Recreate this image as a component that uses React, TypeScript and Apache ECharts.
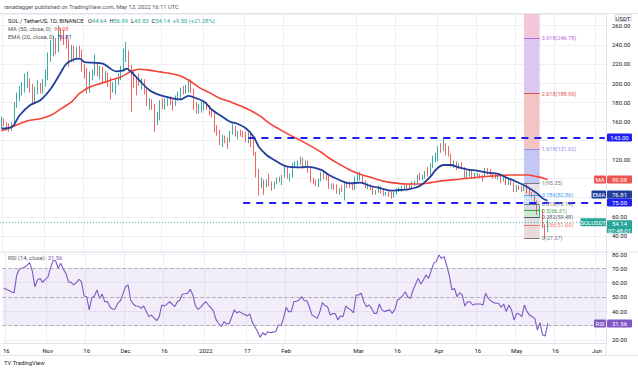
import { useEffect, useRef } from "react";
import * as echarts from "echarts";

const FONT = "Roboto, 'Liberation Sans', sans-serif";

// Daily candles as [close, high, low]; each open is the previous close.
const oct21 = [[161,165,153],[158,163,155],[154,159,150],[152,158,149],[156,159,150],[178,180,155],[185,190,174],[192,197,181],[196,201,187],[200,210,190],[203,212,195],[196,205,190],[183,199,178],[192,196,180],[197,203,188],[194,200,189],[200,204,189]];
const nov21 = [[204,214,196],[228,232,203],[236,245,222],[238,249,228],[237,247,230],[251,260,232],[250,258,244],[247,256,240],[240,250,236],[225,246,217],[236,240,222],[231,239,222],[233,238,226],[232,239,227],[215,235,212],[214,220,205],[195,216,189],[208,212,190],[210,214,203],[218,230,208],[210,222,207],[214,218,204],[206,217,201],[207,213,200],[200,211,196],[195,206,183],[196,201,190],[202,204,188],[205,210,198],[215,218,203]];
const dec21 = [[228,236,212],[231,243,222],[216,234,212],[210,219,170],[205,213,195],[203,207,187],[200,210,197],[203,205,193],[190,204,188],[178,194,176],[181,184,172],[176,183,172],[162,178,149],[167,170,156],[180,182,161],[178,184,173],[180,184,172],[183,186,176],[181,186,177],[178,183,171],[184,187,176],[186,191,181],[193,195,182],[192,197,188],[193,198,189],[198,202,190],[193,204,190],[175,194,172],[171,180,168],[174,178,168],[176,181,169]];
const jan22 = [[178,180,171],[176,180,172],[170,177,166],[167,172,164],[155,171,148],[150,156,145],[138,151,135],[142,146,133],[141,145,137],[140,143,131],[148,150,138],[153,157,146],[146,155,144],[148,150,141],[147,151,144],[146,150,143],[144,149,138],[146,148,137],[136,147,133],[127,142,124],[109,128,101],[94,110,82],[99,101,90],[95,99,83],[97,99,91],[95,105,92],[94,97,87],[95,97,89],[100,101,94],[99,102,96],[103,104,93]];
const feb22 = [[110,112,101],[102,112,100],[103,105,97],[114,116,101],[114,118,111],[116,119,111],[120,123,114],[115,122,110],[116,119,111],[109,119,106],[98,111,96],[97,101,94],[95,99,92],[99,100,91],[106,107,97],[103,107,99],[102,105,98],[92,103,89],[93,95,89],[92,95,88],[86,94,84],[89,90,83],[88,93,86],[95,96,77],[94,97,90],[92,97,90],[90,95,88],[101,102,88]];
const mar22 = [[101,106,97],[103,107,98],[97,104,95],[92,98,90],[93,95,89],[90,94,88],[85,91,83],[85,88,83],[91,93,85],[86,92,84],[84,88,82],[85,86,82],[84,87,81],[82,86,79],[84,86,80],[89,90,83],[90,91,86],[91,92,86],[93,94,89],[91,94,88],[90,94,88],[94,97,89],[97,98,92],[101,104,95],[99,106,98],[102,104,98],[107,108,100],[104,112,102],[113,116,103],[121,124,111],[123,127,117]];
const apr22 = [[132,134,118],[130,137,127],[135,143,129],[130,137,124],[125,134,123],[114,126,112],[116,119,111],[111,118,109],[114,116,110],[112,117,110],[102,112,100],[105,108,100],[106,109,102],[103,108,100],[104,106,100],[104,106,102],[103,105,100],[102,104,97],[110,111,101],[106,111,104],[104,110,102],[103,106,100],[102,105,100],[102,104,99],[98,103,95],[101,104,97],[94,102,93],[99,100,93],[95,100,93],[87,96,86]];
const may22 = [[91,93,86],[90,93,88],[88,92,86],[94,95,87],[88,95.35,84],[85,89,82],[83,86,80],[76,84,74],[65,77,62],[67,72,59],[50.5,68,48],[44.64,52,37.37],[54.14,56.99,43.83]];
const firstOpen = 157;

// Day 0 = 2021-11-01
const FIRST_DAY = -17;
const LAST_AXIS_DAY = 215;

const maDays = [-17,-13,-10,-6,-2,2,6,10,13,17,21,25,29,33,36,40,44,48,52,56,59,63,67,71,75,79,83,86,90,94,98,102,106,109,113,117,121,125,129,133,139,144,148,153,159,166,172,179,185,189,193];
const maValues = [150,154,157.5,161,162.7,166.2,173.2,180.2,188.9,195.9,199.4,203,206.4,212.3,214.4,213.5,211.7,210,207.4,201.4,195.5,190,184,180.5,176,171,164.5,158,151.5,145.5,140,134,127.5,121.5,115,109,104.5,101.3,98,95.7,94.3,94.3,95.7,97.8,99.2,101.3,102.7,103.7,103.7,102,99.08];
const emaDays = [-17,-13,-10,-6,-2,2,6,8,11,13,15,18,22,25,27,30,31,33,36,40,44,48,52,55,58,61,64,68,71,74,77,80,82,85,88,90,93,97,101,106,109,113,117,121,125,129,133,136,140,144,148,150,153,156,158,162,166,170,174,177,181,185,189,191,193];
const emaValues = [152.5,154,166,176.7,182,194,211.6,220,224.9,225.5,222,221.3,220.3,215,212.3,213.4,215,211.6,203,192.5,187.3,184.5,183,186.5,184,180.5,172,164.8,159.5,157.1,152.6,143.8,133.4,124.7,119.4,116,112.4,111.8,112.2,109,103.7,98.5,95,95.7,92.2,89.8,87.3,88,89,92.5,102,109,114.2,114.2,112.4,109.7,108.2,106.1,104.8,101.3,96.7,91.5,84.5,79.5,76.81];

// RSI(14), one value per day from FIRST_DAY
const rsiValues = [
  56,55.4,54.5,53.5,53,65.4,69.3,70,70.7,72.3,
  74,68,57.2,61.9,63,60.2,62.3,63.7,70,75.3,
  75.3,70,73.5,69.3,66.5,60.7,60.2,58.4,60,62.3,
  60.7,50.7,50.2,41,49.5,50.7,54.9,49,52,46.7,
  46.9,43,41.4,41.7,45.6,47.4,52,57.2,58.4,47.9,
  45.1,43.7,43.5,42.1,43.7,40,36.3,37.4,35.5,33.5,
  36.3,44.4,43.7,45,46.7,45.1,43.2,46.7,47.9,52.1,
  52.3,52.6,55.4,51.4,43.7,41.4,42.8,45,46.7,44.4,
  42.5,40,34,31.5,29.3,32.8,31.3,31.3,36,41,
  39,39.8,38.6,37.8,36.8,38.1,32.1,29,25.8,21.9,
  25.1,23.5,25.8,25.1,25.5,25.8,30.5,29.9,35,42.8,
  39.8,39.8,46.7,47,47.9,50.2,47.4,47.4,43,37.4,
  36.3,35.1,39.5,46,44,43.2,37.4,38.6,38.3,34,
  36.8,36.3,43.7,42.1,41,39,51.4,51.4,52.6,46.7,
  43.2,44.4,42.1,38.6,38.6,45.1,41,39.8,40.5,41,
  38.6,41.4,47.9,49,51,53.7,50,49,54.9,59,
  63,59.1,61.9,65.4,63,68.4,73.5,75,79.3,77,
  78.1,72,65,55,56,50.2,53,51.4,43.7,46.7,
  46.7,44.4,45.1,45.1,45.1,44.4,52.6,49,47.5,46.2,
  45.6,45.6,42.8,45.1,39.8,44.4,41,34,38.6,38,
  36.3,44.4,39.8,37.4,36.2,35.1,27,32.1,23.5,22.8,
  31.56
];

const fibRatios = [0, 0.236, 0.382, 0.5, 0.618, 0.786, 1, 1.618, 2.618, 3.618];
const fibPrices = [37.37, 51.03, 59.48, 66.31, 73.14, 82.86, 95.35, 131.02, 188.9, 246.78];
const fibLineColors = ["#787b86", "#f07070", "#555a66", "#43a047", "#6e7280", "#42a5f5", "#787b86", "#8c8ce8", "#e05050", "#b86ad6"];
const fibFillColors = ["#ecdada", "#dedfe2", "#cdebd0", "#d9dae6", "#cfe5f5", "#e3e3e7", "#c4c7f3", "#f3c4c4", "#dcc7ee", "#f4c6da"];
const fibStartDay = 184;
const fibEndDay = 190;

const resistance = 143;
const resistanceStartDay = 78;
const support = 75;
const supportStartDay = 76;
const lastPrice = 54.14;
const lastMA = 99.08;
const lastEMA = 76.81;
const lastRSI = 31.56;

// axis tick labels hidden behind the price-scale boxes in the reference
const coveredPriceTicks = [140, 100, 80];
const coveredRsiTicks = [30];

const xLabelDays = [-16, 0, 15, 30, 45, 61, 77, 92, 120, 135, 151, 166, 181, 196, 212];
const xLabelTexts = ["16", "Nov", "16", "Dec", "16", "2022", "17", "Feb", "Mar", "16", "Apr", "16", "May", "16", "Jun"];

function cat(d: number): string {
  const t = Date.UTC(2021, 10, 1) + d * 86400000;
  return new Date(t).toISOString().slice(0, 10);
}

export default function App() {
  const ref = useRef<HTMLDivElement>(null);
  useEffect(() => {
    const el = ref.current!;
    const chart = echarts.init(el, null, { renderer: "svg" });

    const categories: string[] = [];
    for (let d = FIRST_DAY; d <= LAST_AXIS_DAY; d++) categories.push(cat(d));
    const labelMap = new Map<string, string>();
    xLabelDays.forEach((d, i) => labelMap.set(cat(d), xLabelTexts[i]));

    const rows = [...oct21, ...nov21, ...dec21, ...jan22, ...feb22, ...mar22, ...apr22, ...may22];
    const candleData: number[][] = [];
    let prev = firstOpen;
    rows.forEach(([c, h, l]) => {
      const o = prev;
      candleData.push([o, c, Math.min(l, o, c), Math.max(h, o, c)]);
      prev = c;
    });

    const maData = maDays.map((d, i) => [cat(d), maValues[i]]);
    const emaData = emaDays.map((d, i) => [cat(d), emaValues[i]]);

    const priceMin = 23.1;
    const priceMax = 272.3;
    const bounds = [...fibPrices, priceMax];
    const fibAreas = fibFillColors.map((color, i) => [
      { xAxis: cat(fibStartDay), yAxis: bounds[i], itemStyle: { color, opacity: 1 } },
      { xAxis: cat(fibEndDay), yAxis: bounds[i + 1] },
    ]);
    const fibLines = fibPrices.map((p, i) => [
      {
        xAxis: cat(fibStartDay),
        yAxis: p,
        lineStyle: { color: fibLineColors[i], width: 1, type: "solid" },
        label: {
          show: true,
          position: "end",
          distance: 2,
          formatter: `${fibRatios[i]}(${p.toFixed(2)})`,
          color: fibLineColors[i],
          fontSize: 5.5,
          fontFamily: FONT,
        },
      },
      { xAxis: cat(fibEndDay), yAxis: p },
    ]);

    const xAxisFor = (gridIndex: number, showLabels: boolean) => ({
      type: "category",
      gridIndex,
      data: categories,
      boundaryGap: true,
      axisLine: { show: showLabels, lineStyle: { color: "#e0e3eb", width: 1 } },
      axisTick: { show: false },
      axisLabel: {
        show: showLabels,
        interval: (_i: number, v: string) => labelMap.has(v),
        formatter: (v: string) => labelMap.get(v) ?? "",
        fontSize: 6,
        color: "#131722",
        margin: 4,
        fontFamily: FONT,
      },
      splitLine: {
        show: true,
        interval: (_i: number, v: string) => labelMap.has(v),
        lineStyle: { color: "#eef0f5", width: 1 },
      },
    });

    const tickFmt = (covered: number[]) => (v: number) =>
      covered.some((c) => Math.abs(c - v) < 1e-6) ? "" : v.toFixed(2);

    const option: any = {
      animation: false,
      backgroundColor: "#ffffff",
      textStyle: { fontFamily: FONT },
      grid: [
        { left: 0, top: 14, width: 606, height: 238 },
        { left: 0, top: 252, width: 606, height: 91 },
      ],
      xAxis: [xAxisFor(0, false), xAxisFor(1, true)],
      yAxis: [
        {
          type: "value",
          gridIndex: 0,
          position: "right",
          min: priceMin,
          max: priceMax,
          splitNumber: 12,
          minInterval: 20,
          maxInterval: 20,
          axisLine: { show: true, lineStyle: { color: "#e0e3eb" } },
          axisTick: { show: false },
          axisLabel: {
            fontSize: 6,
            color: "#131722",
            margin: 6,
            fontFamily: FONT,
            showMinLabel: false,
            showMaxLabel: false,
            formatter: tickFmt(coveredPriceTicks),
          },
          splitLine: { show: true, lineStyle: { color: "#eef0f5", width: 1 } },
        },
        {
          type: "value",
          gridIndex: 1,
          position: "right",
          min: 17.9,
          max: 81.4,
          splitNumber: 6,
          minInterval: 10,
          maxInterval: 10,
          axisLine: { show: true, lineStyle: { color: "#e0e3eb" } },
          axisTick: { show: false },
          axisLabel: {
            fontSize: 6,
            color: "#131722",
            margin: 6,
            fontFamily: FONT,
            showMinLabel: false,
            showMaxLabel: false,
            formatter: tickFmt(coveredRsiTicks),
          },
          splitLine: { show: true, lineStyle: { color: "#eef0f5", width: 1 } },
        },
      ],
      series: [
        {
          name: "fib",
          type: "line",
          xAxisIndex: 0,
          yAxisIndex: 0,
          data: [],
          z: 1,
          silent: true,
          markArea: { silent: true, data: fibAreas },
          markLine: { silent: true, symbol: "none", data: fibLines },
        },
        {
          name: "SOLUSDT",
          type: "candlestick",
          xAxisIndex: 0,
          yAxisIndex: 0,
          data: candleData,
          z: 3,
          barWidth: 1.3,
          itemStyle: {
            color: "#26a69a",
            color0: "#ef5350",
            borderColor: "#26a69a",
            borderColor0: "#ef5350",
            borderWidth: 0.9,
          },
        },
        {
          name: "MA",
          type: "line",
          xAxisIndex: 0,
          yAxisIndex: 0,
          data: maData,
          z: 4,
          smooth: 0.35,
          showSymbol: false,
          lineStyle: { color: "#f44336", width: 1.6 },
        },
        {
          name: "EMA",
          type: "line",
          xAxisIndex: 0,
          yAxisIndex: 0,
          data: emaData,
          z: 5,
          smooth: 0.35,
          showSymbol: false,
          lineStyle: { color: "#1f3f9b", width: 1.8 },
        },
        {
          name: "levels",
          type: "line",
          xAxisIndex: 0,
          yAxisIndex: 0,
          data: [],
          z: 6,
          silent: true,
          markLine: {
            silent: true,
            symbol: "none",
            label: { show: false },
            data: [
              [
                { xAxis: cat(resistanceStartDay), yAxis: resistance, lineStyle: { color: "#1f1ff0", width: 2, type: [7, 6] } },
                { xAxis: cat(LAST_AXIS_DAY), yAxis: resistance },
              ],
              [
                { xAxis: cat(supportStartDay), yAxis: support, lineStyle: { color: "#1f1ff0", width: 2, type: [7, 6] } },
                { xAxis: cat(LAST_AXIS_DAY), yAxis: support },
              ],
              { yAxis: lastPrice, lineStyle: { color: "#26a69a", width: 0.8, type: [1, 2] } },
            ],
          },
        },
        {
          name: "RSI",
          type: "line",
          xAxisIndex: 1,
          yAxisIndex: 1,
          data: rsiValues,
          showSymbol: false,
          z: 4,
          lineStyle: { color: "#7e57c2", width: 1.1 },
          markArea: {
            silent: true,
            data: [[{ yAxis: 70, itemStyle: { color: "rgba(126,87,194,0.1)" } }, { yAxis: 30 }]],
          },
          markLine: {
            silent: true,
            symbol: "none",
            label: { show: false },
            lineStyle: { color: "#9598a1", width: 0.8, type: [3, 3] },
            data: [{ yAxis: 70 }, { yAxis: 50 }, { yAxis: 30 }],
          },
        },
      ],
    };
    chart.setOption(option);

    const py = (v: number) => chart.convertToPixel({ yAxisIndex: 0 }, v) as unknown as number;
    const ry = (v: number) => chart.convertToPixel({ yAxisIndex: 1 }, v) as unknown as number;

    const g: any[] = [];
    const box = (x: number, yc: number, w: number, h: number, fill: string, lines: string[], textFill = "#ffffff", stroke?: string) => {
      g.push({
        type: "rect",
        shape: { x, y: yc - h / 2, width: w, height: h, r: 1 },
        style: { fill, stroke: stroke ?? fill, lineWidth: stroke ? 0.6 : 0 },
        z: 100,
      });
      lines.forEach((t, i) => {
        g.push({
          type: "text",
          x: x + w / 2,
          y: yc - h / 2 + (i + 0.5) * (h / lines.length),
          style: { text: t, fill: textFill, fontSize: 6, fontFamily: FONT, textAlign: "center", textVerticalAlign: "middle" },
          z: 101,
        });
      });
    };
    const AX = 607;
    const AW = 25;
    const BH = 8;

    // frame lines
    g.push({ type: "line", shape: { x1: 0, y1: 13.5, x2: 638, y2: 13.5 }, style: { stroke: "#e0e3eb", lineWidth: 1 }, z: 50 });
    g.push({ type: "line", shape: { x1: 0, y1: 252, x2: 638, y2: 252 }, style: { stroke: "#e0e3eb", lineWidth: 1 }, z: 50 });
    g.push({ type: "line", shape: { x1: 606, y1: 343, x2: 606, y2: 356 }, style: { stroke: "#e0e3eb", lineWidth: 1 }, z: 50 });
    g.push({ type: "line", shape: { x1: 0, y1: 355.5, x2: 638, y2: 355.5 }, style: { stroke: "#e0e3eb", lineWidth: 1 }, z: 50 });

    // axis boxes
    box(615, 18, 16, 6.5, "#ffffff", ["USDT"], "#131722", "#b2b5be");
    box(AX, py(resistance), AW, BH, "#1f1ff0", [resistance.toFixed(2)]);
    box(AX, py(lastMA), AW, BH, "#ef5350", [lastMA.toFixed(2)]);
    box(594, py(lastMA), 12, BH, "#ef5350", ["MA"]);
    let yEma = py(lastEMA);
    const ySup = py(support);
    if (Math.abs(yEma - ySup) < BH) yEma = ySup - BH;
    box(AX, yEma, AW, BH, "#1f3f9b", [lastEMA.toFixed(2)]);
    box(591.5, yEma, 14.5, BH, "#1f3f9b", ["EMA"]);
    box(AX, ySup, AW, BH, "#1f1ff0", [support.toFixed(2)]);
    const yLast = py(lastPrice);
    box(AX, yLast + 4.4, AW, 13.2, "#26a69a", [lastPrice.toFixed(2), "07:48:01"]);
    box(580.5, yLast, 25.5, BH, "#26a69a", ["SOLUSDT"]);
    const yR = ry(lastRSI);
    box(AX, yR, AW, BH, "#7e57c2", [lastRSI.toFixed(2)]);
    box(594, yR, 12, BH, "#7e57c2", ["RSI"]);

    // header / legends
    const rich = {
      d: { fill: "#131722", color: "#131722", fontSize: 5.8, fontFamily: FONT },
      g: { fill: "#50535e", color: "#50535e", fontSize: 5.8, fontFamily: FONT },
      v: { fill: "#26a69a", color: "#26a69a", fontSize: 5.8, fontFamily: FONT },
      r: { fill: "#ef5350", color: "#ef5350", fontSize: 5.8, fontFamily: FONT },
      b: { fill: "#1f3f9b", color: "#1f3f9b", fontSize: 5.8, fontFamily: FONT },
      p: { fill: "#7e57c2", color: "#7e57c2", fontSize: 5.8, fontFamily: FONT },
    };
    const legend = (x: number, y: number, text: string) =>
      g.push({ type: "text", x, y, style: { text, rich, textVerticalAlign: "middle", fontSize: 5.8, fontFamily: FONT }, z: 120 });
    legend(4, 7, "{g|ranadagger published on TradingView.com, May 13, 2022 16:11 UTC}");
    legend(8, 21, "{d|SOL / TetherUS, 1D, BINANCE}   {d|O}{v|44.64}  {d|H}{v|56.99}  {d|L}{v|43.83}  {d|C}{v|54.14}  {v|+9.50 (+21.28%)}");
    legend(8, 28.5, "{g|MA (50, close, 0)}  {r|99.08}");
    legend(8, 36.5, "{g|EMA (20, close, 0)}  {b|76.81}");
    legend(8, 258, "{g|RSI (14, close)}  {p|31.56}");
    legend(4, 363, "{d|TV} {d|TradingView}");

    chart.setOption({ graphic: g });

    return () => chart.dispose();
  }, []);

  return <div ref={ref} style={{ position: "fixed", left: 0, top: 0, width: 638, height: 370, background: "#fff" }} />;
}
